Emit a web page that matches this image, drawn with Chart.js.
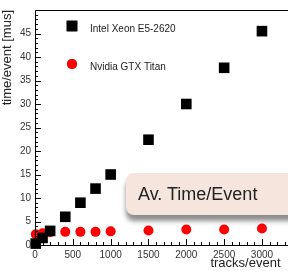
<!DOCTYPE html>
<html>
<head>
<meta charset="utf-8">
<script src="https://cdn.jsdelivr.net/npm/chart.js@4"></script>
<style>
    html, body { margin: 0; padding: 0; background: #fff; overflow: hidden; }
    #wrap { position: relative; width: 288px; height: 271px; }
    #note {
        position: absolute; left: 126px; top: 173px; width: 180px; height: 42px;
        background: #f6e5dc; border-radius: 8px;
        box-shadow: 0 6px 5px rgba(0, 0, 0, 0.45);
        font: 18px "Liberation Sans", Arial, sans-serif; color: #222;
        line-height: 42px; padding-left: 12px; box-sizing: border-box;
    }
</style>
</head>
<body>
<div id="wrap">
    <canvas id="chart" width="288" height="271"></canvas>
    <div id="note">Av. Time/Event</div>
</div>
<script>
const tracks = [10, 100, 200, 400, 600, 800, 1000, 1500, 2000, 2500, 3000];
const cpuTime = [0.3, 1.5, 3.0, 6.0, 9.0, 12.0, 15.0, 22.4, 30.0, 37.7, 45.5];
const gpuTime = [2.3, 2.5, 2.7, 2.8, 2.8, 2.8, 2.9, 3.1, 3.3, 3.3, 3.5];
const xTickValues = [0, 500, 1000, 1500, 2000, 2500, 3000];
const yTickValues = [0, 5, 10, 15, 20, 25, 30, 35, 40, 45];
const legendLabels = ['Intel Xeon E5-2620', 'Nvidia GTX Titan'];

const FONT = '"Liberation Sans", Arial, sans-serif';

// ticks pointing into the plot, plus the frame lines
const frameTicks = {
    id: 'frameTicks',
    afterDraw(chart) {
        const ctx = chart.ctx;
        const a = chart.chartArea;
        const x = chart.scales.x, y = chart.scales.y;
        ctx.save();
        ctx.strokeStyle = '#000';
        ctx.lineWidth = 1;
        ctx.beginPath();
        ctx.moveTo(a.left + 0.5, a.bottom);
        ctx.lineTo(a.left + 0.5, a.top + 0.5);
        ctx.lineTo(chart.width, a.top + 0.5);
        ctx.moveTo(a.left, a.bottom + 0.5);
        ctx.lineTo(chart.width, a.bottom + 0.5);
        for (let v = 0; v <= 3300; v += 100) {
            const px = Math.round(x.getPixelForValue(v)) + 0.5;
            const len = v % 500 === 0 ? 6 : 3;
            ctx.moveTo(px, a.bottom);
            ctx.lineTo(px, a.bottom - len);
        }
        for (let v = 0; v <= 49; v += 1) {
            const py = Math.round(y.getPixelForValue(v)) + 0.5;
            const len = v % 5 === 0 ? 6 : 3;
            ctx.moveTo(a.left, py);
            ctx.lineTo(a.left + len, py);
        }
        ctx.stroke();

        // legend
        ctx.font = '10px ' + FONT;
        ctx.textBaseline = 'middle';
        const rows = [26, 64];
        chart.data.datasets.forEach((ds, i) => {
            Chart.helpers.drawPoint(ctx, {
                pointStyle: ds.pointStyle, radius: ds.pointRadius, rotation: 0
            }, 72, rows[i]);
            ctx.fillStyle = ds.backgroundColor;
            ctx.fill();
            ctx.fillStyle = '#222';
            ctx.fillText(legendLabels[i], 90, rows[i] + 3);
        });
        ctx.restore();
    }
};

new Chart(document.getElementById('chart'), {
    type: 'scatter',
    data: {
        datasets: [
            {
                label: legendLabels[0],
                data: tracks.map((t, i) => ({ x: t, y: cpuTime[i] })),
                pointStyle: 'rect',
                pointRadius: 7.5,
                backgroundColor: '#000',
                borderWidth: 0
            },
            {
                label: legendLabels[1],
                data: tracks.map((t, i) => ({ x: t, y: gpuTime[i] })),
                pointStyle: 'circle',
                pointRadius: 5,
                backgroundColor: '#ff0000',
                borderWidth: 0
            }
        ]
    },
    options: {
        responsive: false,
        animation: false,
        clip: false,
        layout: { padding: { top: 6, right: 0, left: 0, bottom: 0 } },
        plugins: { legend: { display: false }, tooltip: { enabled: false } },
        scales: {
            x: {
                type: 'linear',
                min: 0,
                max: 3245,
                afterBuildTicks: s => { s.ticks = xTickValues.map(v => ({ value: v })); },
                afterFit: s => { s.height = 26; },
                grid: { display: false, drawTicks: false },
                border: { display: false },
                ticks: {
                    padding: 4, color: '#333', font: { family: FONT, size: 10 }, maxRotation: 0,
                    callback: v => String(v)
                },
                title: {
                    display: true, text: 'tracks/event', align: 'end', color: '#222',
                    font: { family: FONT, size: 13 }, padding: { top: -3, bottom: 0 }
                }
            },
            y: {
                type: 'linear',
                min: 0,
                max: 50,
                afterBuildTicks: s => { s.ticks = yTickValues.map(v => ({ value: v })); },
                afterFit: s => { s.width = 35; },
                grid: { display: false, drawTicks: false },
                border: { display: false },
                ticks: {
                    padding: 4, color: '#333', font: { family: FONT, size: 10 },
                    callback: v => String(v)
                },
                title: {
                    display: true, text: 'time/event [mus]', align: 'end', color: '#222',
                    font: { family: FONT, size: 13 }, padding: { top: 0, bottom: 0 }
                }
            }
        }
    },
    plugins: [frameTicks]
});
</script>
</body>
</html>
